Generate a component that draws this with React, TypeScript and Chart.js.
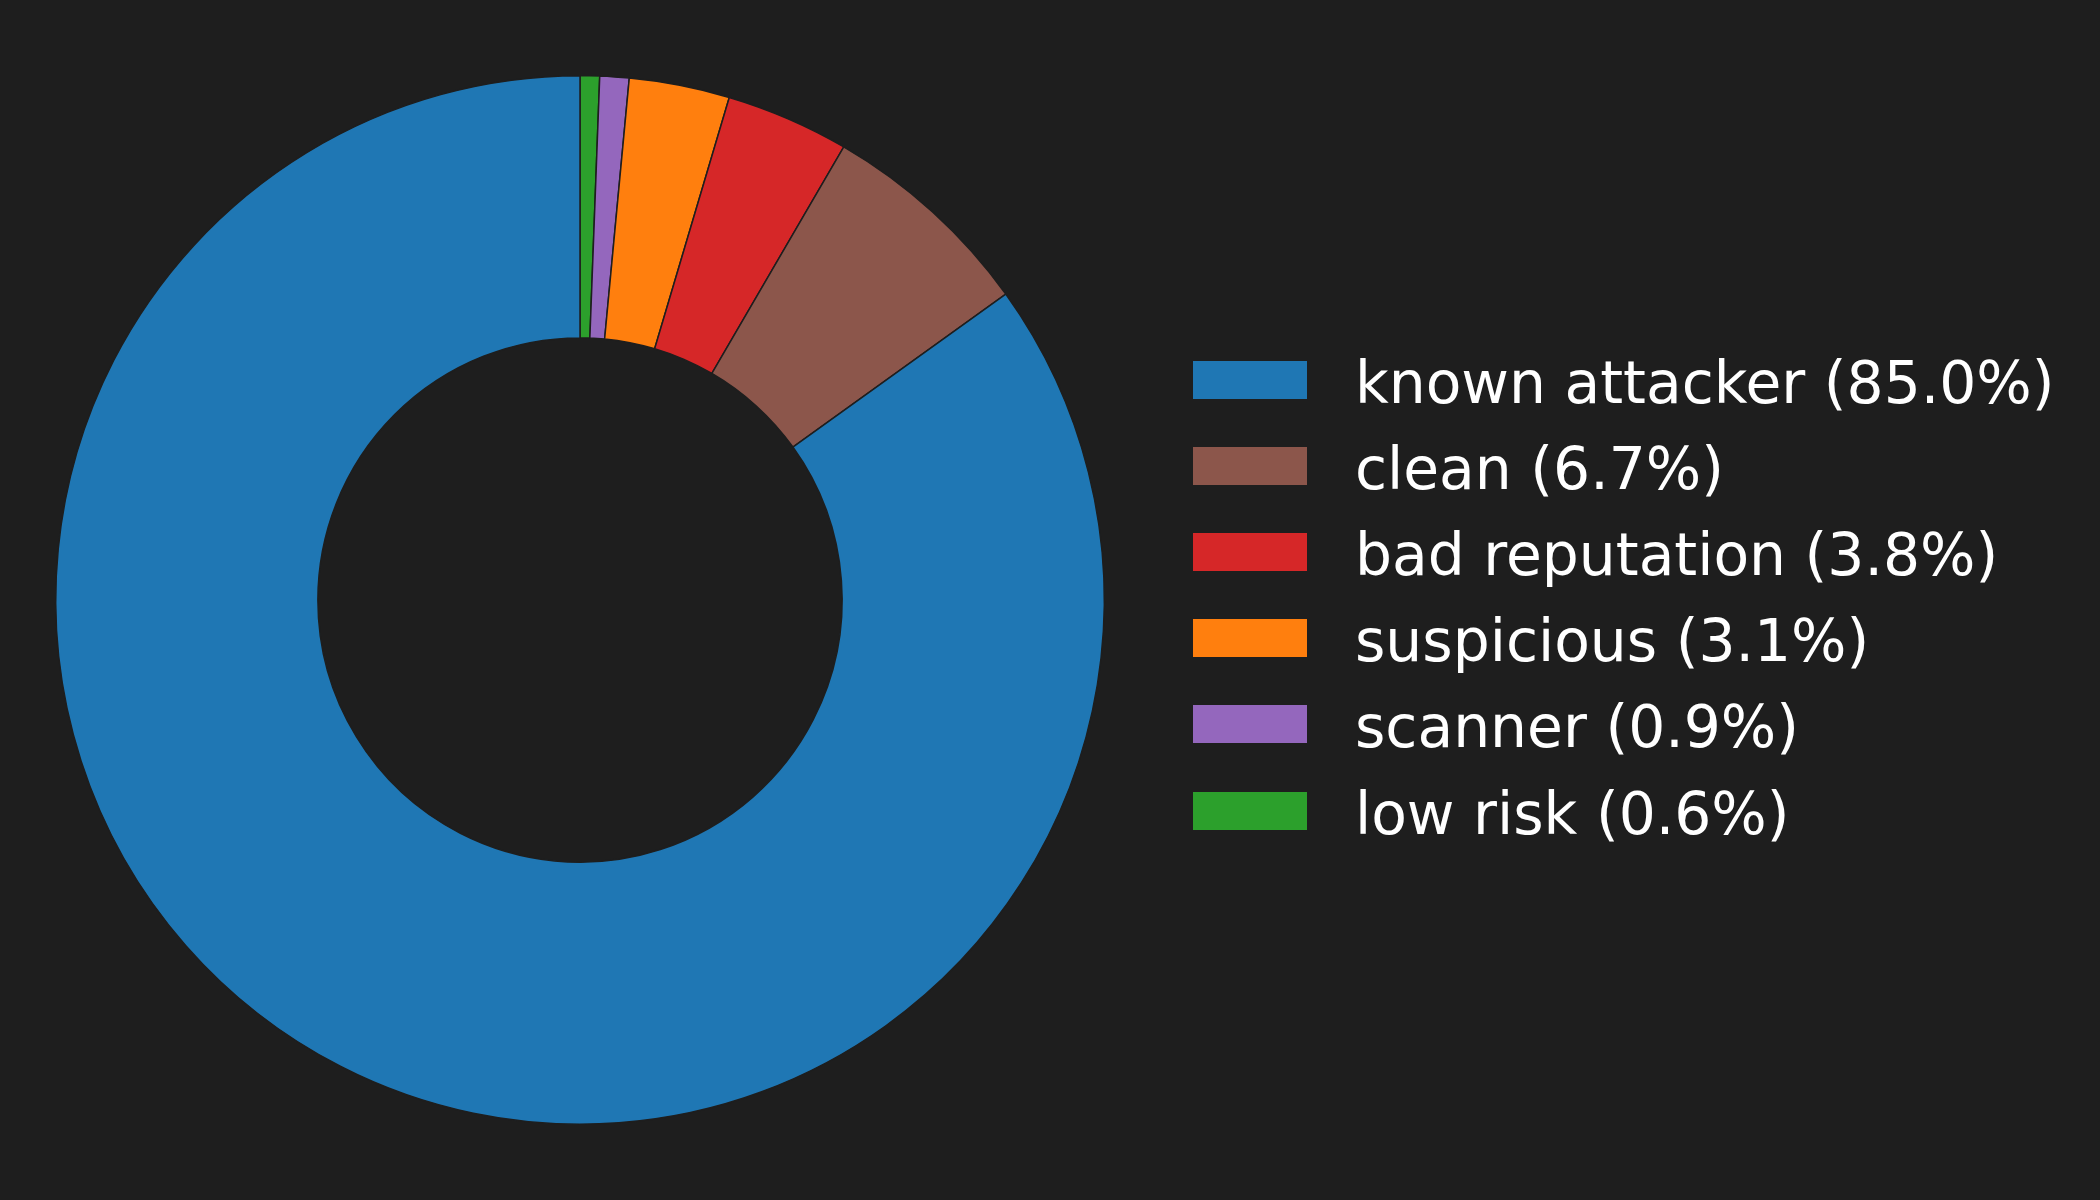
import React, { useEffect, useRef } from "react";
import { Chart, registerables } from "chart.js";

Chart.register(...registerables);

const categories = ["known attacker", "clean", "bad reputation", "suspicious", "scanner", "low risk"];
const percentages = [85.0, 6.7, 3.8, 3.1, 0.9, 0.6];
const colors = ["#1f77b4", "#8c564b", "#d62728", "#ff7f0e", "#9467bd", "#2ca02c"];

const BG = "#1e1e1e";

export default function App() {
  const ref = useRef<HTMLCanvasElement>(null);

  useEffect(() => {
    if (!ref.current) return;
    // matplotlib draws counter-clockwise from the top; Chart.js goes clockwise, so reverse order
    const rev = <T,>(a: T[]) => a.slice().reverse();
    const chart = new Chart(ref.current, {
      type: "doughnut",
      data: {
        labels: rev(categories),
        datasets: [
          {
            data: rev(percentages),
            backgroundColor: rev(colors),
            borderColor: BG,
            borderWidth: 1.5,
          },
        ],
      },
      options: {
        responsive: false,
        animation: false,
        cutout: "50%",
        layout: { padding: { left: 55, right: 995, top: 75, bottom: 75 } },
        plugins: {
          legend: { display: false },
          tooltip: { enabled: false },
        },
      },
    });
    return () => chart.destroy();
  }, []);

  const rowStart = 380;
  const rowStep = 86.1;

  return (
    <div
      style={{
        position: "fixed",
        left: 0,
        top: 0,
        width: 2100,
        height: 1200,
        background: BG,
        overflow: "hidden",
      }}
    >
      <canvas ref={ref} width={2100} height={1200} style={{ position: "absolute", left: 0, top: 0, width: 2100, height: 1200 }} />
      {categories.map((c, i) => {
        const cy = rowStart + rowStep * i;
        return (
          <React.Fragment key={c}>
            <div
              style={{
                position: "absolute",
                left: 1193,
                top: cy - 19,
                width: 114,
                height: 38,
                background: colors[i],
              }}
            />
            <div
              style={{
                position: "absolute",
                left: 1355,
                top: cy - 26,
                fontFamily: "'DejaVu Sans', sans-serif",
                fontSize: 58.3,
                lineHeight: "58px",
                color: "#ffffff",
                whiteSpace: "nowrap",
              }}
            >
              {`${c} (${percentages[i].toFixed(1)}%)`}
            </div>
          </React.Fragment>
        );
      })}
    </div>
  );
}
